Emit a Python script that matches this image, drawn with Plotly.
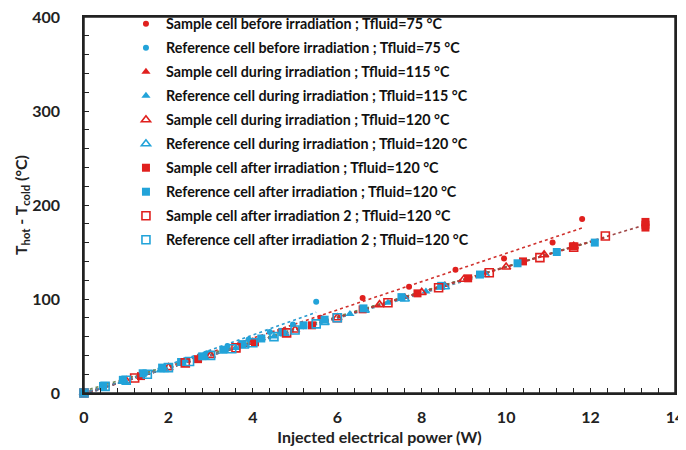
import numpy as np
import plotly.graph_objects as go

RED = "#E0201E"
BLUE = "#22A3D9"

# ---------------- data ----------------
x_sb = [0, 0.9, 1.85, 2.75, 3.7, 4.65, 5.6, 6.6, 7.7, 8.8, 9.95, 11.1, 11.8]
y_sb = [0, 13, 27, 39, 52, 66, 80, 101, 113, 131, 143, 160, 185]

x_rb = [0, 0.45, 0.95, 1.45, 1.9, 2.4, 2.9, 3.4, 3.9, 4.4, 4.95, 5.5]
y_rb = [0, 7, 14, 21, 28, 35, 42, 50, 57, 65, 73, 97]

x_sd115 = [0, 0.95, 1.9, 2.85, 3.8, 4.75, 5.7, 6.65, 7.6, 8.55, 9.5]
y_sd115 = [0, 13, 26, 38, 51, 64, 77, 89, 102, 115, 128]

x_rd115 = [0, 0.9, 1.8, 2.7, 3.6, 4.5, 5.4, 6.3, 7.2, 8.1]
y_rd115 = [0, 12, 24, 36, 48, 60, 72, 84, 96, 108]

x_sd120 = [0, 1.0, 2.0, 3.0, 4.0, 5.0, 6.0, 7.0, 8.0, 9.0, 10.0, 10.9, 11.6]
y_sd120 = [0, 13, 27, 40, 54, 67, 80, 94, 107, 121, 134, 147, 156]

x_rd120 = [0, 0.95, 1.9, 2.85, 3.8, 4.75, 5.7, 6.65, 7.6, 8.55, 9.5]
y_rd120 = [0, 12.5, 25, 38, 50, 63, 75, 88, 100, 113, 126]

x_sa = [0, 1.35, 2.7, 4.05, 5.4, 6.6, 7.9, 9.1, 10.4, 11.6, 13.3, 13.3, 13.3]
y_sa = [0, 18, 36, 54, 72, 89, 106, 122, 140, 156, 176, 179, 182]

x_ra = [0, 0.45, 0.92, 1.39, 1.85, 2.3, 2.8, 3.3, 3.75, 4.2, 4.7, 5.2, 5.7,
        6.62, 7.52, 8.46, 9.38, 10.27, 11.2, 12.1]
y_ra = [0, 7.5, 14, 21, 27, 33, 39, 46, 52, 58, 65, 72, 78,
        90, 102, 114, 126, 138, 150, 160]

x_sa2 = [0, 1.2, 2.4, 3.6, 4.8, 6.0, 7.2, 8.4, 9.6, 10.8, 11.6, 12.35]
y_sa2 = [0, 16, 32, 48, 64, 80, 96, 112, 128, 144, 155, 167]

x_ra2 = [0, 0.5, 1.0, 1.5, 2.0, 2.5, 3.0, 3.5, 4.0, 4.5, 5.0, 5.5, 6.0]
y_ra2 = [0, 7, 13.5, 20, 27, 33.5, 40, 47, 53.5, 60, 67, 73.5, 80]

names = [
    "Sample cell before irradiation ; Tfluid=75 °C",
    "Reference cell before irradiation ; Tfluid=75 °C",
    "Sample cell during irradiation ; Tfluid=115 °C",
    "Reference cell during irradiation ; Tfluid=115 °C",
    "Sample cell during irradiation ; Tfluid=120 °C",
    "Reference cell during irradiation ; Tfluid=120 °C",
    "Sample cell after irradiation ; Tfluid=120 °C",
    "Reference cell after irradiation ; Tfluid=120 °C",
    "Sample cell after irradiation 2 ; Tfluid=120 °C",
    "Reference cell after irradiation 2 ; Tfluid=120 °C",
]

series = [
    (x_sb, y_sb, RED, "circle", 6, "#D0312D"),
    (x_rb, y_rb, BLUE, "circle", 6, "#2B9BD0"),
    (x_sd115, y_sd115, RED, "triangle-up", 8, "#C8403A"),
    (x_rd115, y_rd115, BLUE, "triangle-up", 8, "#3A9CC4"),
    (x_sd120, y_sd120, RED, "triangle-up-open", 8, "#B84040"),
    (x_rd120, y_rd120, BLUE, "triangle-up-open", 8, "#5E8FA8"),
    (x_sa, y_sa, RED, "square", 8, "#A04848"),
    (x_ra, y_ra, BLUE, "square", 8, "#6E8A5A"),
    (x_sa2, y_sa2, RED, "square-open", 8, "#B03A3A"),
    (x_ra2, y_ra2, BLUE, "square-open", 8, "#4A90B0"),
]

fig = go.Figure()

# trendlines (linear fits of each series)
for (xs, ys, col, sym, sz, tcol) in series:
    a, b = np.polyfit(xs, ys, 1)
    xr = np.array([min(xs), max(xs)])
    fig.add_trace(go.Scatter(x=xr, y=a * xr + b, mode="lines",
                             line=dict(color=tcol, width=1.6, dash="dot"),
                             showlegend=False, hoverinfo="skip"))

for i, (xs, ys, col, sym, sz, tcol) in enumerate(series):
    mk = dict(color=col, symbol=sym, size=sz)
    if "open" in sym:
        mk["line"] = dict(color=col, width=1.6)
    fig.add_trace(go.Scatter(x=xs, y=ys, mode="markers", name=names[i],
                             marker=mk, cliponaxis=False,
                             legendgroup=f"g{i}"))

FONT = "Lato"
# the page body adds an ~8 px offset; margins compensate for it
fig.update_layout(
    width=686, height=450,
    margin=dict(l=76, r=19, t=9, b=65, autoexpand=False),
    paper_bgcolor="white", plot_bgcolor="white",
    font=dict(family=FONT, size=15, color="#222222", weight="bold"),
    showlegend=True,
    legend=dict(x=0.071, y=1.02, xanchor="left", yanchor="top",
                yref="container", maxheight=1.0,
                bgcolor="rgba(0,0,0,0)", tracegroupgap=2.4,
                font=dict(family=FONT, size=14.3, color="#111111", weight="bold")),
    xaxis=dict(range=[0, 14], dtick=2, tick0=0, showgrid=False, zeroline=False,
               automargin=False,
               showline=True, linecolor="#222222", linewidth=1.5, mirror=True,
               ticks="inside", ticklen=5, tickcolor="#222222",
               ticklabeloverflow="allow", ticklabelstandoff=9,
               minor=dict(dtick=0.4, ticks="inside", ticklen=5, tickcolor="#222222"),
               tickfont=dict(family=FONT, size=16, weight="bold"),
               title=dict(text="Injected electrical power (W)", standoff=7,
                          font=dict(family=FONT, size=16, weight="bold"))),
    yaxis=dict(range=[0, 400], dtick=100, tick0=0, showgrid=False, zeroline=False,
               automargin=False,
               showline=True, linecolor="#222222", linewidth=1.5, mirror=True,
               ticks="inside", ticklen=5, tickcolor="#222222",
               ticklabeloverflow="allow", ticklabelstandoff=19,
               minor=dict(dtick=20, ticks="inside", ticklen=5, tickcolor="#222222"),
               tickfont=dict(family=FONT, size=16, weight="bold"),
               title=dict(text="T<sub>hot</sub> - T<sub>cold</sub> (°C)", standoff=0,
                          font=dict(family=FONT, size=16, weight="bold"))),
    shapes=[dict(type="rect", xref="paper", yref="paper", x0=0, x1=1, y0=0, y1=1,
                 line=dict(color="#222222", width=1.5), fillcolor="rgba(0,0,0,0)",
                 layer="above")],
)

fig.write_html("out.html")
